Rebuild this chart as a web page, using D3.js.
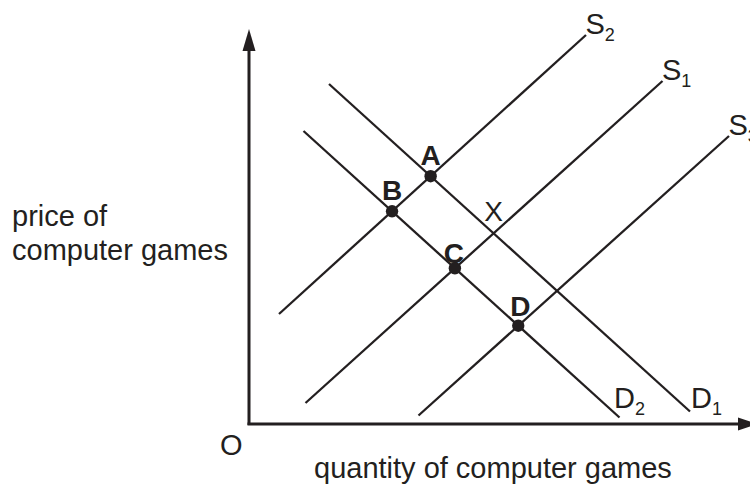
<!DOCTYPE html>
<html>
<head>
<meta charset="utf-8">
<script src="https://cdn.jsdelivr.net/npm/d3@7/dist/d3.min.js"></script>
<style>
  html, body { margin: 0; padding: 0; background: #fff; }
  svg { display: block; }
  text { font-family: "Liberation Sans", Arial, Helvetica, sans-serif; fill: #231f20; }
</style>
</head>
<body>
<div id="chart"></div>
<script>
// supply curves (quantity, price) endpoints
var supplyNames = ["S2", "S1", "S3"];
var supplyFrom = [[0.60, 2.20], [1.13, 0.42], [3.39, 0.17]];
var supplyTo = [[6.74, 7.78], [8.27, 6.86], [9.60, 5.76]];

// demand curves
var demandNames = ["D1", "D2"];
var demandFrom = [[1.60, 6.80], [1.09, 5.86]];
var demandTo = [[8.82, 0.25], [7.41, 0.13]];

// equilibrium points: which supply meets which demand
var pointNames = ["A", "B", "C", "D"];
var pointLines = [["S2", "D1"], ["S2", "D2"], ["S1", "D2"], ["S3", "D2"]];
var crossName = "X";
var crossLines = ["S1", "D1"];

var axisLabelY = ["price of", "computer games"];
var axisLabelX = "quantity of computer games";
var originLabel = "O";

var width = 750, height = 492;
var ink = "#231f20";

var x = d3.scaleLinear().domain([0, 10]).range([249, 749]);
var y = d3.scaleLinear().domain([0, 8]).range([424, 24]);

var svg = d3.select("#chart").append("svg")
    .attr("width", width)
    .attr("height", height);

var curves = {};
supplyNames.forEach((n, i) => curves[n] = {name: n, kind: "S", from: supplyFrom[i], to: supplyTo[i]});
demandNames.forEach((n, i) => curves[n] = {name: n, kind: "D", from: demandFrom[i], to: demandTo[i]});
var curveList = Object.values(curves);

function meet(a, b) {
    var p = a.from, r = [a.to[0] - a.from[0], a.to[1] - a.from[1]];
    var q = b.from, s = [b.to[0] - b.from[0], b.to[1] - b.from[1]];
    var den = r[0] * s[1] - r[1] * s[0];
    var t = ((q[0] - p[0]) * s[1] - (q[1] - p[1]) * s[0]) / den;
    return [p[0] + t * r[0], p[1] + t * r[1]];
}

// axes with arrow heads
var axisW = 3;
svg.append("line")
    .attr("x1", x(0)).attr("y1", y(0) + 1)
    .attr("x2", x(0)).attr("y2", y(7.5))
    .attr("stroke", ink).attr("stroke-width", axisW);
svg.append("line")
    .attr("x1", x(0) - 1.5).attr("y1", y(0))
    .attr("x2", x(9.8)).attr("y2", y(0))
    .attr("stroke", ink).attr("stroke-width", axisW);
svg.append("path")
    .attr("d", "M" + x(0) + "," + y(7.9) + "L" + (x(0) - 6.5) + "," + y(7.46) +
               "L" + (x(0) + 6.5) + "," + y(7.46) + "Z")
    .attr("fill", ink);
svg.append("path")
    .attr("d", "M" + x(10.18) + "," + y(0) + "L" + x(9.78) + "," + (y(0) - 6.5) +
               "L" + x(9.78) + "," + (y(0) + 6.5) + "Z")
    .attr("fill", ink);

// curves
svg.selectAll("line.curve").data(curveList).enter().append("line")
    .attr("class", "curve")
    .attr("x1", d => x(d.from[0])).attr("y1", d => y(d.from[1]))
    .attr("x2", d => x(d.to[0])).attr("y2", d => y(d.to[1]))
    .attr("stroke", ink).attr("stroke-width", 2.3);

// curve labels with subscripts
var curveLabels = svg.selectAll("text.curve-label").data(curveList).enter().append("text")
    .attr("class", "curve-label")
    .attr("x", d => {
        if (d.kind == "S") return x(d.to[0]) - 0.5;
        // demand label sits right of the line, level with its text
        var py = y.invert(398);
        var t = (py - d.from[1]) / (d.to[1] - d.from[1]);
        return x(d.from[0] + t * (d.to[0] - d.from[0])) + 16;
    })
    .attr("y", d => d.kind == "S" ? y(d.to[1]) - 1 : 408)
    .attr("font-size", 29);
curveLabels.append("tspan").text(d => d.name[0]);
curveLabels.append("tspan").text(d => d.name.slice(1))
    .attr("font-size", 18).attr("dy", 6.5);

// equilibrium dots
var pts = pointNames.map((n, i) => {
    var p = meet(curves[pointLines[i][0]], curves[pointLines[i][1]]);
    return {name: n, q: p[0], p: p[1]};
});
var labelShift = {A: [0, -11], B: [0, -11], C: [-1, -5], D: [2, -10]};

svg.selectAll("circle.pt").data(pts).enter().append("circle")
    .attr("class", "pt")
    .attr("cx", d => x(d.q)).attr("cy", d => y(d.p))
    .attr("r", 6.2).attr("fill", ink);
svg.selectAll("text.pt-label").data(pts).enter().append("text")
    .attr("class", "pt-label")
    .attr("x", d => x(d.q) + labelShift[d.name][0])
    .attr("y", d => y(d.p) + labelShift[d.name][1])
    .attr("text-anchor", "middle")
    .attr("font-size", 28).attr("font-weight", "bold")
    .text(d => d.name);

var xp = meet(curves[crossLines[0]], curves[crossLines[1]]);
svg.append("text")
    .attr("x", x(xp[0])).attr("y", y(xp[1]) - 12)
    .attr("text-anchor", "middle")
    .attr("font-size", 28)
    .text(crossName);

// axis titles
svg.selectAll("text.ylab").data(axisLabelY).enter().append("text")
    .attr("class", "ylab")
    .attr("x", 12).attr("y", (d, i) => 226 + i * 34)
    .attr("font-size", 29)
    .text(d => d);
svg.append("text")
    .attr("x", 314).attr("y", 478)
    .attr("font-size", 29)
    .text(axisLabelX);
svg.append("text")
    .attr("x", 220).attr("y", 455)
    .attr("font-size", 29)
    .text(originLabel);
</script>
</body>
</html>
